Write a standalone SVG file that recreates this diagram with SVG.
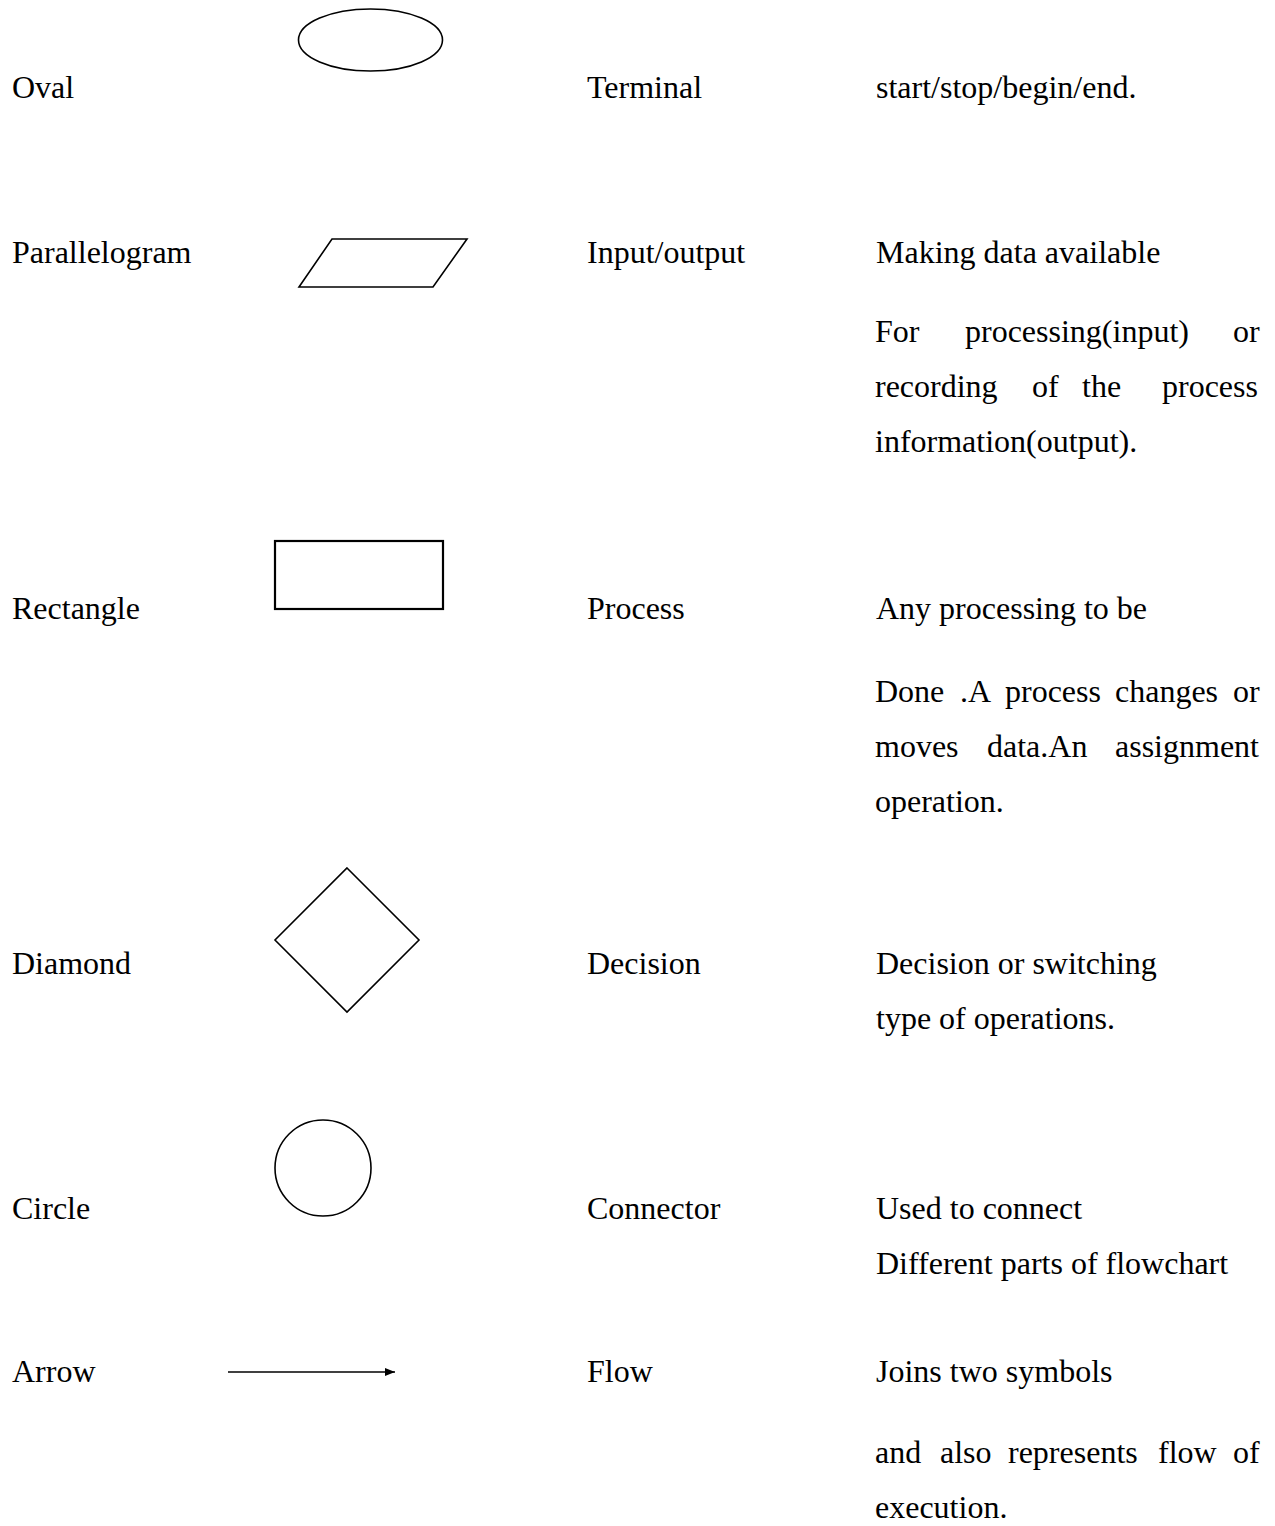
<svg xmlns="http://www.w3.org/2000/svg" width="1275" height="1526" viewBox="0 0 1275 1526">
  <style>
    text { font-family: "Liberation Serif", "Times New Roman", serif; font-size: 32px; fill: #000; }
    .shape { fill: none; stroke: #000; stroke-width: 1.6; }
    .box { fill: none; stroke: #000; stroke-width: 2.2; }
  </style>
  <defs>
    <marker id="arrowhead" markerWidth="10" markerHeight="8" refX="10" refY="4" orient="auto" markerUnits="userSpaceOnUse">
      <path d="M0,0 L10,4 L0,8 Z" fill="#000"/>
    </marker>
  </defs>
  <rect width="1275" height="1526" fill="#fff"/>

  <!-- Symbol column -->
  <g id="oval"><ellipse class="shape" cx="370.5" cy="40" rx="72" ry="31"/></g>
  <g id="parallelogram"><polygon class="shape" points="332,239 467,239 433,287 299,287"/></g>
  <g id="rectangle"><rect class="box" x="275" y="541" width="168" height="68"/></g>
  <g id="diamond"><polygon class="shape" points="347,868 419,940 347,1012 275,940"/></g>
  <g id="circle"><circle class="shape" cx="323" cy="1168" r="48"/></g>
  <g id="connectors">
    <line x1="228" y1="1372" x2="395" y2="1372" stroke="#000" stroke-width="1.6" marker-end="url(#arrowhead)"/>
  </g>

  <!-- Row: oval -->
  <g id="row-oval">
    <text x="12" y="98">Oval</text>
    <text x="587" y="98">Terminal</text>
    <text x="876" y="98">start/stop/begin/end.</text>
  </g>

  <!-- Row: parallelogram -->
  <g id="row-parallelogram">
    <text x="12" y="263">Parallelogram</text>
    <text x="587" y="263">Input/output</text>
    <text x="876" y="263">Making data available</text>
    <text y="342"><tspan x="875">For</tspan><tspan x="965">processing(input)</tspan><tspan x="1233">or</tspan></text>
    <text y="397"><tspan x="875">recording</tspan><tspan x="1032">of</tspan><tspan x="1082">the</tspan><tspan x="1162">process</tspan></text>
    <text x="875" y="452">information(output).</text>
  </g>

  <!-- Row: rectangle -->
  <g id="row-rectangle">
    <text x="12" y="619">Rectangle</text>
    <text x="587" y="619">Process</text>
    <text x="876" y="619">Any processing to be</text>
    <text y="702"><tspan x="875">Done</tspan><tspan x="960">.A</tspan><tspan x="1005">process</tspan><tspan x="1115">changes</tspan><tspan x="1233">or</tspan></text>
    <text y="757"><tspan x="875">moves</tspan><tspan x="987">data.An</tspan><tspan x="1115">assignment</tspan></text>
    <text x="875" y="812">operation.</text>
  </g>

  <!-- Row: diamond -->
  <g id="row-diamond">
    <text x="12" y="974">Diamond</text>
    <text x="587" y="974">Decision</text>
    <text x="876" y="974">Decision or switching</text>
    <text x="876" y="1029">type of operations.</text>
  </g>

  <!-- Row: circle -->
  <g id="row-circle">
    <text x="12" y="1219">Circle</text>
    <text x="587" y="1219">Connector</text>
    <text x="876" y="1219">Used to connect</text>
    <text x="876" y="1274">Different parts of flowchart</text>
  </g>

  <!-- Row: arrow -->
  <g id="row-arrow">
    <text x="12" y="1382">Arrow</text>
    <text x="587" y="1382">Flow</text>
    <text x="876" y="1382">Joins two symbols</text>
    <text y="1463"><tspan x="875">and</tspan><tspan x="940">also</tspan><tspan x="1008">represents</tspan><tspan x="1158">flow</tspan><tspan x="1233">of</tspan></text>
    <text x="875" y="1518">execution.</text>
  </g>
</svg>
